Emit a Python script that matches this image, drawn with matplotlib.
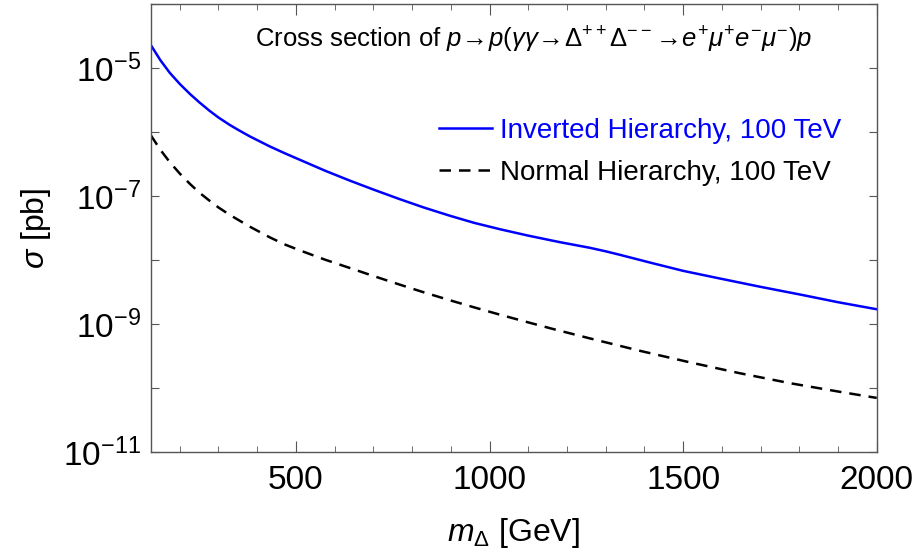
import numpy as np
import matplotlib
matplotlib.use("Agg")
import matplotlib.pyplot as plt
from matplotlib.ticker import FixedLocator, MultipleLocator, FuncFormatter

plt.rcParams['font.family'] = ['Liberation Sans', 'DejaVu Sans']
plt.rcParams['mathtext.fontset'] = 'custom'
plt.rcParams['mathtext.rm'] = 'Liberation Sans'
plt.rcParams['mathtext.it'] = 'Liberation Sans:italic'
plt.rcParams['mathtext.sf'] = 'Liberation Sans'

# values, log10(sigma / pb)
mass_ih = [125, 150, 174, 200, 226, 250, 277, 300, 329, 350, 381, 432, 470,
           510, 575, 639, 700, 768, 830, 898, 960, 1027, 1100, 1180, 1259,
           1300, 1337, 1414, 1500, 1595, 1700, 1802, 1900, 2000]
log_ih = [-4.64, -4.88, -5.075, -5.25, -5.405, -5.535, -5.67, -5.775, -5.89,
          -5.965, -6.07, -6.225, -6.33, -6.435, -6.605, -6.76, -6.90, -7.05,
          -7.18, -7.31, -7.42, -7.52, -7.62, -7.72, -7.81, -7.865, -7.92,
          -8.04, -8.17, -8.29, -8.42, -8.54, -8.66, -8.77]

mass_nh = [125, 150, 174, 200, 226, 250, 277, 300, 329, 350, 381, 432, 470,
           510, 575, 639, 700, 768, 830, 898, 960, 1027, 1100, 1165, 1259,
           1389, 1518, 1647, 1776, 1905, 2000]
log_nh = [-6.05, -6.28, -6.47, -6.65, -6.81, -6.945, -7.075, -7.18, -7.295,
          -7.37, -7.48, -7.645, -7.755, -7.85, -7.995, -8.125, -8.25, -8.385,
          -8.505, -8.63, -8.74, -8.855, -8.975, -9.08, -9.225, -9.42, -9.60,
          -9.77, -9.925, -10.06, -10.155]

sigma_ih = 10.0 ** np.array(log_ih)
sigma_nh = 10.0 ** np.array(log_nh)

fig = plt.figure(figsize=(9.19, 5.57), dpi=100)
ax = fig.add_axes([0.164, 0.1885, 0.79, 0.8045])

ax.plot(mass_ih, sigma_ih, color='#0000ff', lw=1.8, label='Inverted Hierarchy, 100 TeV')
ax.plot(mass_nh, sigma_nh, color='black', lw=1.8, ls=(0, (4.6, 3.2)),
        label='Normal Hierarchy, 100 TeV')

ax.set_yscale('log')
ax.set_xlim(125, 2000)
ax.set_ylim(1e-11, 1e-4)

# ticks: every decade, labels on odd exponents only
decades = [10.0 ** k for k in range(-11, -3)]
ax.yaxis.set_major_locator(FixedLocator(decades))
ax.yaxis.set_minor_locator(FixedLocator([]))

def ylab(v, pos):
    e = int(round(np.log10(v)))
    if e % 2 != 0:
        return r'$10^{%d}$' % e
    return ''

ax.yaxis.set_major_formatter(FuncFormatter(ylab))
ax.xaxis.set_major_locator(FixedLocator([500, 1000, 1500, 2000]))
ax.xaxis.set_minor_locator(MultipleLocator(100))

frame = '#555555'
for s in ax.spines.values():
    s.set_color(frame)
    s.set_linewidth(1.0)
ax.tick_params(which='both', direction='in', top=True, right=True, color=frame,
               labelsize=24)
ax.tick_params(axis='x', which='major', length=8, pad=9)
ax.tick_params(axis='x', which='minor', length=4.5)
ax.tick_params(axis='y', which='major', length=6, pad=7)

ax.set_xlabel(r'$m_{\Delta}$ [GeV]', fontsize=23, labelpad=15)
ax.set_ylabel(r'$\sigma$ [pb]', fontsize=23, labelpad=7)

ax.text(0.527, 0.92,
        r'Cross section of $p\!\rightarrow\! p(\gamma\gamma\!\rightarrow\!\Delta^{++}\Delta^{--}\!\rightarrow\! e^{+}\mu^{+}e^{-}\mu^{-})p$',
        transform=ax.transAxes, ha='center', va='center', fontsize=18.5)

leg = ax.legend(loc='upper right', bbox_to_anchor=(0.951, 0.745), frameon=False,
                fontsize=20, handlelength=1.9, handletextpad=0.3,
                labelspacing=0.56, borderpad=0, borderaxespad=0)
for txt, line in zip(leg.get_texts(), leg.get_lines()):
    txt.set_color(line.get_color())

fig.savefig('out.png', dpi=100)
